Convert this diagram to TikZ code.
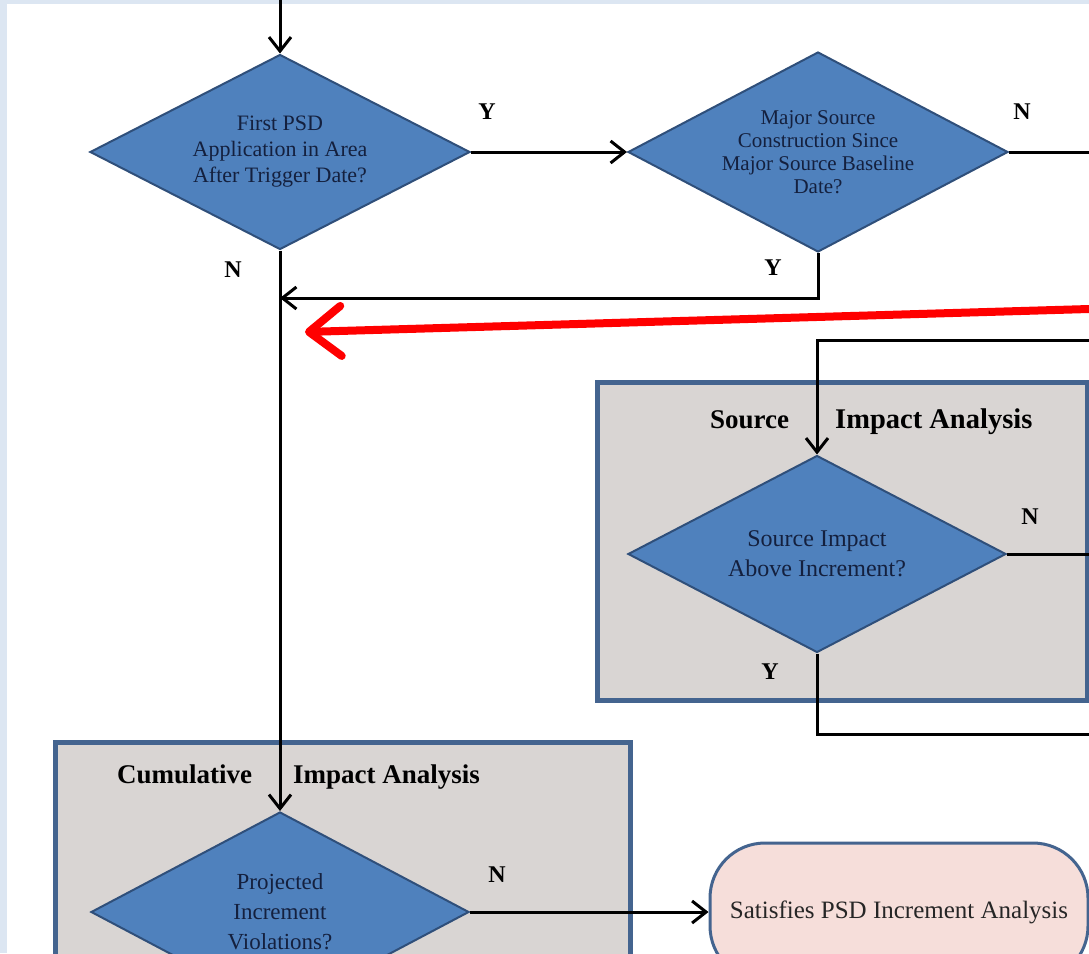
\documentclass[tikz,border=0pt]{standalone}
\usepackage{fontspec}
\setmainfont{Liberation Serif}
\usetikzlibrary{shapes.geometric,arrows.meta}
\definecolor{bgblue}{HTML}{DCE6F2}
\definecolor{dfill}{HTML}{4F81BD}
\definecolor{dline}{HTML}{2F4F7A}
\definecolor{dtext}{HTML}{14203E}
\definecolor{boxfill}{HTML}{D9D5D3}
\definecolor{boxline}{HTML}{44648F}
\definecolor{pinkfill}{HTML}{F6DEDA}
\definecolor{redline}{HTML}{FF0000}
\tikzset{
  dec/.style={diamond, draw=dline, line width=2pt, fill=dfill, inner sep=0pt, aspect=1.95, align=center, text=dtext},
  conn/.style={draw=black, line width=3pt},
  arr/.style={conn, -{Straight Barb[length=14pt,width=22pt,line width=3pt]}},
  yn/.style={font=\fontsize{24}{24}\selectfont\bfseries, text=black, inner sep=0pt},
  ttl/.style={font=\fontsize{27}{27}\selectfont\bfseries, text=black, inner sep=0pt},
  ttlb/.style={font=\fontsize{28.5}{28.5}\selectfont\bfseries, text=black, inner sep=0pt},
  region/.style={draw=boxline, line width=5pt, fill=boxfill},
  redarr/.style={draw=redline, line width=8pt, line cap=round, -{Straight Barb[length=32pt,width=50pt,line width=8pt,round]}}
}
\begin{document}
\begin{tikzpicture}[x=1pt,y=-1pt]
\useasboundingbox (0,0) rectangle (1089,953);
\clip (0,0) rectangle (1089,953);
\fill[bgblue] (0,0) rectangle (1089,953);
\fill[white] (7,4) rectangle (1089,953);
% regions
\draw[region] (597,382) rectangle (1087,700);
\draw[region] (55,742) rectangle (630,1010);
\node[ttl, anchor=base west] (t1a) at (710,428) {Source};
\node[ttlb, anchor=base west] (t1b) at (835,428) {Impact Analysis};
\node[ttl, anchor=base west] (t2a) at (117,783) {Cumulative};
\node[ttl, anchor=base west] (t2b) at (293,783) {Impact Analysis};
% decisions
\node[dec, minimum width=380pt, minimum height=195pt, font=\fontsize{22}{26}\selectfont] (d1) at (280,152) {First PSD\\Application in Area\\After Trigger Date?};
\node[dec, minimum width=380pt, minimum height=200pt, font=\fontsize{21}{23}\selectfont] (d2) at (818,152) {Major Source\\Construction Since\\Major Source Baseline\\Date?};
\node[dec, minimum width=378pt, minimum height=197pt, font=\fontsize{24}{30}\selectfont] (ds) at (817,554) {Source Impact\\Above Increment?};
\node[dec, minimum width=378pt, minimum height=200pt, font=\fontsize{23}{30}\selectfont] (d4) at (280,912) {Projected\\Increment\\Violations?};
\node[draw=boxline, line width=3pt, fill=pinkfill, rounded corners=55pt, minimum width=378pt, minimum height=138pt, font=\fontsize{25}{25}\selectfont, text=black!85] (sat) at (899,912) {Satisfies PSD Increment Analysis};
% free ends
\coordinate (top) at (280,0);
\coordinate (e1) at (1089,152);
\coordinate (j1) at (280,298);
\coordinate (e2) at (1089,340);
\coordinate (e3) at (1089,554);
\coordinate (e4) at (1089,734);
\coordinate (rs) at (1089,309);
\coordinate (rt) at (305,332);
% connectors
\draw[arr] (top) -- (d1.north);
\draw[arr] (d1.east) -- (d2.west);
\draw[conn] (d2.east) -- (e1);
\draw[arr] (d1.south) -- (d4.north);
\draw[arr] (d2.south) |- (j1);
\draw[arr] (e2) -| (ds.north);
\draw[conn] (ds.east) -- (e3);
\draw[conn] (ds.south) |- (e4);
\draw[arr] (d4.east) -- (sat.west);
\draw[redarr] (rs) -- (rt);
% labels
\node[yn] (l1) at (487,112) {Y};
\node[yn] (l2) at (1022,112) {N};
\node[yn] (l3) at (233,270) {N};
\node[yn] (l4) at (773,268) {Y};
\node[yn] (l5) at (1030,517) {N};
\node[yn] (l6) at (770,672) {Y};
\node[yn] (l7) at (497,875) {N};
\end{tikzpicture}
\end{document}
